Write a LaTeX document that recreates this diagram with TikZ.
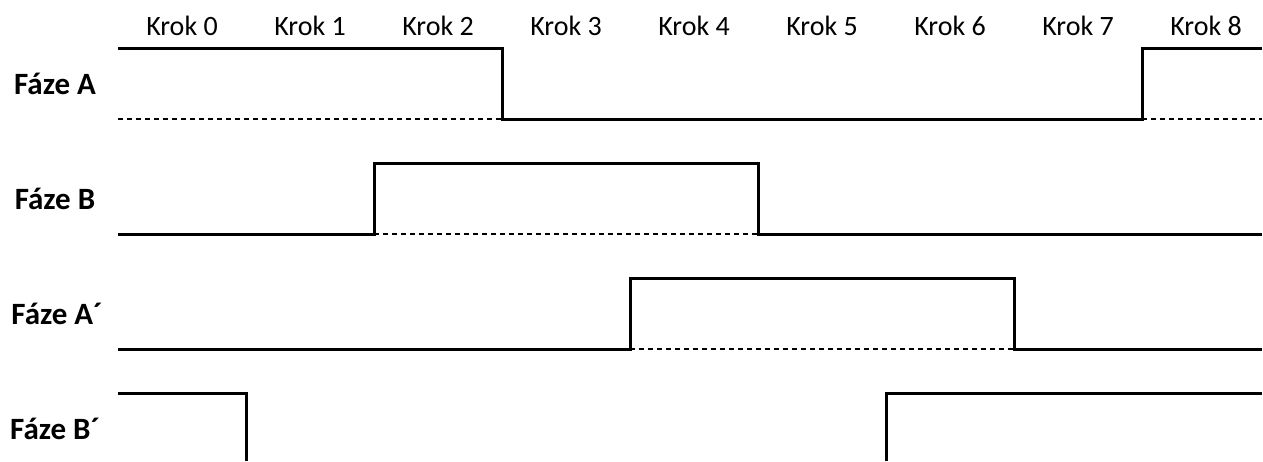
\documentclass[tikz,border=0pt]{standalone}
\usepackage{fontspec}
\setmainfont{Carlito}
\tikzset{
  signal/.style={line width=1.5pt, line join=miter},
  zero/.style={line width=1pt, dash pattern=on 2.5pt off 2pt},
  krok/.style={anchor=base, font=\fontsize{14}{16}\selectfont},
  faze/.style={anchor=base, font=\fontsize{15.5}{18}\selectfont\bfseries},
}
\begin{document}
\begin{tikzpicture}[x=0.5pt,y=-0.5pt]
\useasboundingbox (0,0) rectangle (1263,461);
% kroky
\foreach \i in {0,...,8}
  \node[krok] (krok\i) at ({182+128*\i},35) {Krok \i};
% popisky fazi
\node[faze] (fazeA)  at (55,94)  {Fáze A};
\node[faze] (fazeB)  at (55,209) {Fáze B};
\node[faze] (fazeAc) at (57,324) {Fáze A´};
\node[faze] (fazeBc) at (55,439) {Fáze B´};
% faze A
\draw[zero] (118,119) -- (502,119);
\draw[zero] (1142,119) -- (1262,119);
\draw[signal] (118,48) -- (502,48) -- (502,119) -- (1142,119) -- (1142,48) -- (1262,48);
% faze B
\draw[zero] (374,234) -- (758,234);
\draw[signal] (118,234) -- (374,234) -- (374,163) -- (758,163) -- (758,234) -- (1262,234);
% faze A'
\draw[zero] (630,349) -- (1014,349);
\draw[signal] (118,349) -- (630,349) -- (630,278) -- (1014,278) -- (1014,349) -- (1262,349);
% faze B'
\draw[signal] (118,393) -- (246,393) -- (246,461);
\draw[signal] (886,461) -- (886,393) -- (1262,393);
\end{tikzpicture}
\end{document}
